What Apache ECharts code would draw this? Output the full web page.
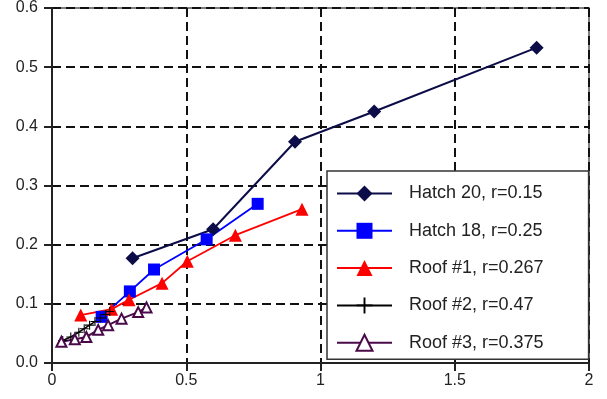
<!DOCTYPE html>
<html>
<head>
<meta charset="utf-8">
<script src="https://cdn.jsdelivr.net/npm/echarts@6/dist/echarts.min.js"></script>
<style>
  html, body { margin: 0; padding: 0; background: #fff; }
  #chart { width: 607px; height: 399px; }
</style>
</head>
<body>
<div id="chart"></div>
<script>
// Axis ticks
var xTicks = [0, 0.5, 1, 1.5, 2];
var yTicks = [0, 0.1, 0.2, 0.3, 0.4, 0.5, 0.6];

// Series names (legend order)
var seriesNames = ['Hatch 20, r=0.15', 'Hatch 18, r=0.25', 'Roof #1, r=0.267', 'Roof #2, r=0.47', 'Roof #3, r=0.375'];

// Hatch 20
var hatch20X = [0.30, 0.60, 0.905, 1.20, 1.805];
var hatch20Y = [0.177, 0.226, 0.374, 0.425, 0.533];

// Hatch 18
var hatch18X = [0.185, 0.29, 0.38, 0.576, 0.766];
var hatch18Y = [0.078, 0.121, 0.158, 0.209, 0.269];

// Roof #1
var roof1X = [0.107, 0.222, 0.287, 0.41, 0.504, 0.683, 0.931];
var roof1Y = [0.081, 0.091, 0.107, 0.135, 0.172, 0.216, 0.260];

// Roof #2
var roof2X = [0.04, 0.07, 0.10, 0.12, 0.14, 0.16, 0.18, 0.20, 0.215];
var roof2Y = [0.038, 0.044, 0.052, 0.058, 0.064, 0.070, 0.076, 0.082, 0.087];

// Roof #3
var roof3X = [0.035, 0.085, 0.128, 0.172, 0.209, 0.259, 0.321, 0.352];
var roof3Y = [0.036, 0.040, 0.044, 0.056, 0.064, 0.075, 0.086, 0.094];

function pairs(xs, ys) {
  return xs.map(function (x, i) { return [x, ys[i]]; });
}

var FONT = '"Liberation Sans", Arial, Helvetica, sans-serif';
var plusPath = 'path://M4.4,0h1.2v4.4h4.4v1.2h-4.4v4.4h-1.2v-4.4h-4.4v-1.2h4.4z';

var chart = echarts.init(document.getElementById('chart'), null, { renderer: 'canvas' });

chart.setOption({
  animation: false,
  backgroundColor: '#fff',
  textStyle: { fontFamily: FONT },
  grid: {
    left: 52, right: 18, top: 4, bottom: 36,
    show: true,
    borderColor: '#555',
    borderWidth: 1.5,
    backgroundColor: 'transparent'
  },
  xAxis: {
    type: 'value',
    min: xTicks[0],
    max: xTicks[xTicks.length - 1],
    interval: 0.5,
    axisLine: { show: true, onZero: false, lineStyle: { color: '#222', width: 2 } },
    axisTick: { show: true, inside: false, length: 8, lineStyle: { color: '#222', width: 2 } },
    axisLabel: { color: '#222', fontSize: 16, margin: 10, fontFamily: FONT },
    splitLine: { show: true, lineStyle: { color: '#111', width: 2, type: [9, 5] } }
  },
  yAxis: {
    type: 'value',
    min: yTicks[0],
    max: yTicks[yTicks.length - 1],
    interval: 0.1,
    axisLine: { show: true, onZero: false, lineStyle: { color: '#222', width: 2 } },
    axisTick: { show: true, inside: false, length: 8, lineStyle: { color: '#222', width: 2 } },
    axisLabel: {
      color: '#222', fontSize: 16, margin: 14, fontFamily: FONT,
      formatter: function (v) { return v.toFixed(1); }
    },
    splitLine: { show: true, lineStyle: { color: '#111', width: 2, type: [9, 5] } }
  },
  legend: {
    orient: 'vertical',
    left: 327,
    top: 171,
    padding: [13.5, 45, 7.5, 9],
    itemGap: 19.3,
    itemWidth: 55,
    itemHeight: 20,
    backgroundColor: '#fff',
    borderColor: '#333',
    borderWidth: 1.5,
    borderRadius: 0,
    textStyle: { fontSize: 18, color: '#222', fontFamily: FONT, padding: [0, 0, 0, 12] },
    data: seriesNames
  },
  series: [
    {
      name: seriesNames[0],
      type: 'line',
      data: pairs(hatch20X, hatch20Y),
      symbol: 'diamond',
      symbolSize: 14,
      lineStyle: { color: '#0c0c48', width: 2 },
      itemStyle: { color: '#0c0c48' }
    },
    {
      name: seriesNames[1],
      type: 'line',
      data: pairs(hatch18X, hatch18Y),
      symbol: 'rect',
      symbolSize: 12,
      lineStyle: { color: '#0000ff', width: 1.8 },
      itemStyle: { color: '#0000ff' }
    },
    {
      name: seriesNames[2],
      type: 'line',
      data: pairs(roof1X, roof1Y),
      symbol: 'triangle',
      symbolSize: 13,
      lineStyle: { color: '#ff0000', width: 1.8 },
      itemStyle: { color: '#ff0000' }
    },
    {
      name: seriesNames[3],
      type: 'line',
      data: pairs(roof2X, roof2Y),
      symbol: plusPath,
      symbolSize: 9,
      lineStyle: { color: '#000', width: 1.5 },
      itemStyle: { color: '#000' }
    },
    {
      name: seriesNames[4],
      type: 'line',
      data: pairs(roof3X, roof3Y),
      symbol: 'triangle',
      symbolSize: 10,
      showAllSymbol: true,
      lineStyle: { color: '#4a0a4a', width: 2 },
      itemStyle: { color: '#fff', borderColor: '#4a0a4a', borderWidth: 2 }
    }
  ]
});
</script>
</body>
</html>
